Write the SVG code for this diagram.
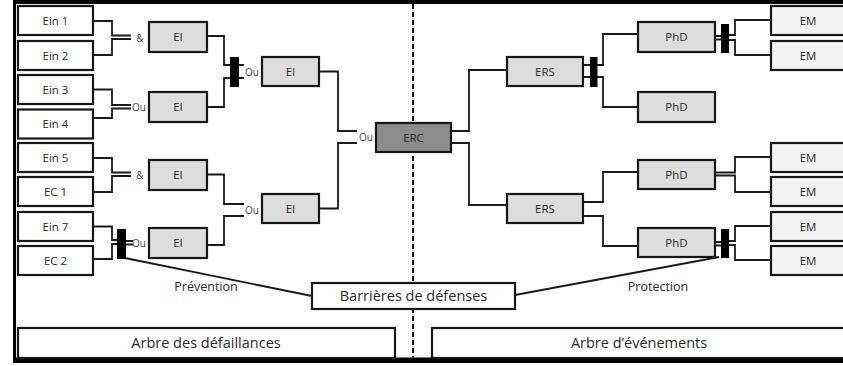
<svg xmlns="http://www.w3.org/2000/svg" width="843" height="366" viewBox="0 0 843 366">
  <style>
    .box { stroke: #161616; stroke-width: 2.2; }
    .in { fill: #ffffff; }
    .ev { fill: #dddddd; }
    .top { fill: #8d8d8d; }
    .em { fill: #f3f3f3; }
    .ln { fill: none; stroke: #1a1a1a; stroke-width: 1.8; }
    .bar { fill: #000000; }
    .t { font-family: "Open Sans", "Noto Sans", "DejaVu Sans", sans-serif; font-size: 11.5px; fill: #2a2a2a; text-anchor: middle; }
    .g { font-family: "Open Sans", "Noto Sans", "DejaVu Sans", sans-serif; font-size: 10px; fill: #444444; text-anchor: middle; }
    .big { font-family: "Open Sans", "Noto Sans", "DejaVu Sans", sans-serif; font-size: 14.5px; fill: #2a2a2a; text-anchor: middle; }
    .mid { font-family: "Open Sans", "Noto Sans", "DejaVu Sans", sans-serif; font-size: 12.5px; fill: #2a2a2a; text-anchor: middle; }
  </style>

  <rect x="0" y="0" width="843" height="366" fill="#ffffff"/>

  <!-- frame -->
  <g id="frame">
    <rect x="13" y="0" width="830" height="4" fill="#000"/>
    <rect x="13" y="0" width="3" height="363" fill="#000"/>
    <rect x="13" y="357.5" width="830" height="5.5" fill="#000"/>
  </g>

  <!-- separator between the two trees -->
  <line x1="413" y1="4" x2="413" y2="358" stroke="#111" stroke-width="2" stroke-dasharray="5 3"/>

  <!-- connectors -->
  <g id="connectors">
    <!-- inputs to first-level gates -->
    <path class="ln" d="M93 21 H112 V35.5 H131 M93 55 H112 V39 H131"/>
    <path class="ln" d="M93 89.5 H112 V105 H131 M93 118 H112 V108.5 H131"/>
    <path class="ln" d="M93 158 H112 V172.5 H131 M93 192 H112 V176 H131"/>
    <path class="ln" d="M93 226.5 H112 V240 H117 M93 259 H112 V244 H117 M126 241 H133 M126 244.5 H133"/>
    <!-- first-level EI to second-level gates -->
    <path class="ln" d="M207 36 H224 V65 H244 M207 107 H224 V78 H244"/>
    <path class="ln" d="M207 174.5 H224 V204 H244 M207 245 H224 V216 H244"/>
    <!-- second-level EI to ERC -->
    <path class="ln" d="M319 71.5 H338 V131 H357 M319 208.5 H338 V143 H357"/>
    <!-- ERC to ERS -->
    <path class="ln" d="M451 131 H469 V70 H507 M451 143 H469 V205 H507"/>
    <!-- ERS to PhD -->
    <path class="ln" d="M583 65 H590 M583 77 H590 M597 65 H603 V34 H638 M597 77 H603 V107 H638"/>
    <path class="ln" d="M583 202 H603 V172 H638 M583 216 H603 V246 H638"/>
    <!-- PhD to EM -->
    <path class="ln" d="M715 36 H721 M715 39.5 H721 M729 35 H735 V20 H771 M729 40 H735 V55 H771"/>
    <path class="ln" d="M715 172.5 H735 V157 H771 M715 175.5 H735 V192 H771"/>
    <path class="ln" d="M715 242 H721 M715 245.5 H721 M729 241 H735 V226 H771 M729 245 H735 V260 H771"/>
    <!-- barrier links -->
    <path class="ln" d="M125 258 L312 296 M515 295 L719 257"/>
  </g>

  <!-- barrier bars -->
  <g id="barriers">
    <rect class="bar" x="117" y="229" width="9" height="30"/>
    <rect class="bar" x="230" y="57" width="9" height="30"/>
    <rect class="bar" x="590" y="57" width="7.5" height="30"/>
    <rect class="bar" x="721" y="24" width="8" height="29"/>
    <rect class="bar" x="721" y="229" width="8" height="29"/>
  </g>

  <!-- gate labels -->
  <g id="gates">
    <text class="g" x="140" y="41.5">&amp;</text>
    <text class="g" x="139" y="110.5">Ou</text>
    <text class="g" x="140" y="178.5">&amp;</text>
    <text class="g" x="139" y="246.5">Ou</text>
    <text class="g" x="252" y="75.5">Ou</text>
    <text class="g" x="252" y="213.5">Ou</text>
    <text class="g" x="366" y="140.5">Ou</text>
  </g>

  <!-- initiating events -->
  <g id="ein1"><rect class="box in" x="18" y="6" width="75" height="29"/><text class="t" x="55.5" y="24.5">Ein 1</text></g>
  <g id="ein2"><rect class="box in" x="18" y="41" width="75" height="29"/><text class="t" x="55.5" y="59.5">Ein 2</text></g>
  <g id="ein3"><rect class="box in" x="18" y="75" width="75" height="29"/><text class="t" x="55.5" y="93.5">Ein 3</text></g>
  <g id="ein4"><rect class="box in" x="18" y="109.5" width="75" height="29"/><text class="t" x="55.5" y="128">Ein 4</text></g>
  <g id="ein5"><rect class="box in" x="18" y="143" width="75" height="29"/><text class="t" x="55.5" y="161.5">Ein 5</text></g>
  <g id="ec1"><rect class="box in" x="18" y="177" width="75" height="29"/><text class="t" x="55.5" y="195.5">EC 1</text></g>
  <g id="ein7"><rect class="box in" x="18" y="212" width="75" height="29"/><text class="t" x="55.5" y="230.5">Ein 7</text></g>
  <g id="ec2"><rect class="box in" x="18" y="246" width="75" height="29"/><text class="t" x="55.5" y="264.5">EC 2</text></g>

  <!-- intermediate events -->
  <g id="ei1"><rect class="box ev" x="149" y="22" width="58" height="30"/><text class="t" x="178" y="41">EI</text></g>
  <g id="ei2"><rect class="box ev" x="149" y="92" width="58" height="30"/><text class="t" x="178" y="111">EI</text></g>
  <g id="ei3"><rect class="box ev" x="149" y="160" width="58" height="30"/><text class="t" x="178" y="179">EI</text></g>
  <g id="ei4"><rect class="box ev" x="149" y="228" width="58" height="30"/><text class="t" x="178" y="247">EI</text></g>
  <g id="ei5"><rect class="box ev" x="262" y="57" width="57" height="29"/><text class="t" x="290.5" y="75.5">EI</text></g>
  <g id="ei6"><rect class="box ev" x="262" y="194" width="57" height="29"/><text class="t" x="290.5" y="212.5">EI</text></g>

  <!-- central event -->
  <g id="erc"><rect class="box top" x="376" y="123" width="75" height="29"/><text class="t" x="413.5" y="141.5">ERC</text></g>

  <!-- secondary events -->
  <g id="ers1"><rect class="box ev" x="507" y="57" width="76" height="29"/><text class="t" x="545" y="75.5">ERS</text></g>
  <g id="ers2"><rect class="box ev" x="507" y="194" width="76" height="29"/><text class="t" x="545" y="212.5">ERS</text></g>

  <!-- dangerous phenomena -->
  <g id="phd1"><rect class="box ev" x="638" y="22" width="77" height="30"/><text class="t" x="676.5" y="41">PhD</text></g>
  <g id="phd2"><rect class="box ev" x="638" y="92" width="77" height="30"/><text class="t" x="676.5" y="111">PhD</text></g>
  <g id="phd3"><rect class="box ev" x="638" y="160" width="77" height="29"/><text class="t" x="676.5" y="178.5">PhD</text></g>
  <g id="phd4"><rect class="box ev" x="638" y="228" width="77" height="29"/><text class="t" x="676.5" y="246.5">PhD</text></g>

  <!-- major effects -->
  <g id="em1"><rect class="box em" x="771" y="6" width="76" height="29"/><text class="t" x="808" y="24.5">EM</text></g>
  <g id="em2"><rect class="box em" x="771" y="41" width="76" height="29"/><text class="t" x="808" y="59.5">EM</text></g>
  <g id="em3"><rect class="box em" x="771" y="143" width="76" height="29"/><text class="t" x="808" y="161.5">EM</text></g>
  <g id="em4"><rect class="box em" x="771" y="177" width="76" height="29"/><text class="t" x="808" y="195.5">EM</text></g>
  <g id="em5"><rect class="box em" x="771" y="212" width="76" height="29"/><text class="t" x="808" y="230.5">EM</text></g>
  <g id="em6"><rect class="box em" x="771" y="246" width="76" height="29"/><text class="t" x="808" y="264.5">EM</text></g>

  <!-- barriers caption -->
  <g id="barrieres"><rect class="box in" x="312" y="283" width="203" height="26"/><text class="big" x="413.5" y="301">Barrières de défenses</text></g>
  <text class="mid" x="206" y="291">Prévention</text>
  <text class="mid" x="658" y="291">Protection</text>

  <!-- tree captions -->
  <g id="arbre-defaillances"><rect class="box in" x="18" y="328" width="377" height="30"/><text class="big" x="206" y="348">Arbre des défaillances</text></g>
  <g id="arbre-evenements"><rect class="box in" x="432" y="328" width="415" height="30"/><text class="big" x="639" y="348">Arbre d’événements</text></g>
</svg>
